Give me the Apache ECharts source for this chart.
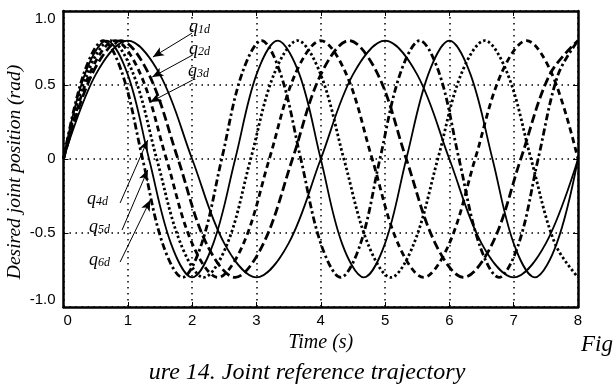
<!DOCTYPE html>
<html><head><meta charset="utf-8">
<script src="https://cdn.jsdelivr.net/npm/echarts@6/dist/echarts.min.js"></script>
<style>html,body{margin:0;padding:0;background:#fff}#c{width:614px;height:385px}</style>
</head><body><div id="c"></div>
<script>
// Time samples (s) and joint positions (rad)
var q1T = [0,0.5,1,1.5,2,2.5,3,3.5,4,4.5,5,5.5,6,6.5,7,7.5,8];
var q1V = [0,0.57,0.8,0.57,0,-0.57,-0.8,-0.57,0,0.57,0.8,0.57,0,-0.57,-0.8,-0.57,0];
var q2T = [0,0.44,0.89,1.33,1.78,2.22,2.67,3.11,3.56,4.0,4.44,4.89,5.33,5.78,6.22,6.67,7.11,7.56,8.0];
var q2V = [0,0.57,0.8,0.57,0,-0.57,-0.8,-0.57,0,0.57,0.8,0.57,0,-0.57,-0.8,-0.57,0,0.57,0.8];
var q3T = [0,0.4,0.8,1.2,1.6,2.0,2.4,2.8,3.2,3.6,4.0,4.4,4.8,5.2,5.6,6.0,6.4,6.8,7.2,7.6,8.0];
var q3V = [0,0.57,0.8,0.57,0,-0.57,-0.8,-0.57,0,0.57,0.8,0.57,0,-0.57,-0.8,-0.57,0,0.57,0.8,0.57,0];
var q4T = [0,0.36,0.73,1.09,1.45,1.82,2.18,2.55,2.91,3.27,3.64,4.0,4.36,4.73,5.09,5.45,5.82,6.18,6.55,6.91,7.27,7.64,8.0];
var q4V = [0,0.57,0.8,0.57,0,-0.57,-0.8,-0.57,0,0.57,0.8,0.57,0,-0.57,-0.8,-0.57,0,0.57,0.8,0.57,0,-0.57,-0.8];
var q5T = [0,0.33,0.67,1,1.33,1.67,2,2.33,2.67,3,3.33,3.67,4,4.33,4.67,5,5.33,5.67,6,6.33,6.67,7,7.33,7.67,8];
var q5V = [0,0.57,0.8,0.57,0,-0.57,-0.8,-0.57,0,0.57,0.8,0.57,0,-0.57,-0.8,-0.57,0,0.57,0.8,0.57,0,-0.57,-0.8,-0.57,0];
var q6T = [0,0.31,0.62,0.92,1.23,1.54,1.85,2.15,2.46,2.77,3.08,3.38,3.69,4.0,4.31,4.62,4.92,5.23,5.54,5.85,6.15,6.46,6.77,7.08,7.38,7.69,8.0];
var q6V = [0,0.57,0.8,0.57,0,-0.57,-0.8,-0.57,0,0.57,0.8,0.57,0,-0.57,-0.8,-0.57,0,0.57,0.8,0.57,0,-0.57,-0.8,-0.57,0,0.57,0.8];
var seriesNames = ['q1d','q2d','q3d','q4d','q5d','q6d'];
var xTicks = [0,1,2,3,4,5,6,7,8];
var yTicks = ['-1.0','-0.5','0','0.5','1.0'];
// Arrow annotations: [label-end (t, q), curve-end (t, q)]
var arrows = [
  [[2.00,0.851],[1.39,0.689]],
  [[2.01,0.703],[1.38,0.554]],
  [[2.01,0.534],[1.35,0.385]],
  [[0.88,-0.297],[1.31,0.128]],
  [[0.91,-0.480],[1.31,-0.074]],
  [[0.88,-0.696],[1.35,-0.277]]
];

function pairs(T,V){return T.map(function(t,i){return [t,V[i]];});}
var allT=[q1T,q2T,q3T,q4T,q5T,q6T], allV=[q1V,q2V,q3V,q4V,q5V,q6V];
var styles=[
  {type:'solid',width:1.8},
  {type:[9,4],width:2.8},
  {type:[6,4],width:2.8},
  {type:[2.5,2.5],width:2.8},
  {type:'solid',width:1.8},
  {type:[7,3,2.5,3],width:2.8}
];
var serif='"Liberation Serif","Times New Roman",serif';
var sans='"Liberation Sans",Arial,sans-serif';
var series = seriesNames.map(function(n,i){
  return {name:n,type:'line',data:pairs(allT[i],allV[i]),smooth:0.35,showSymbol:false,
    lineStyle:{color:'#000',width:styles[i].width,type:styles[i].type},z:3,silent:true};
});
series[0].markLine={silent:true,symbol:['none','arrow'],symbolSize:[7,11],label:{show:false},
  lineStyle:{color:'#000',width:1,type:'solid'},
  data:arrows.map(function(a){return [{coord:a[0]},{coord:a[1]}];})};

var chart=echarts.init(document.getElementById('c'),null,{renderer:'canvas'});
var axisCommon={axisLine:{onZero:false,lineStyle:{color:'#000',width:2.5}},
  axisTick:{inside:true,length:5,lineStyle:{color:'#000',width:1}}};
function lbl(txt,x,y){
  var m=txt.match(/q(\d)d/);
  return {type:'text',left:x,top:y,style:{text:'{a|q}{b|'+m[1]+'d}',rich:{
    a:{fontFamily:serif,fontStyle:'italic',fontSize:18,fill:'#000'},
    b:{fontFamily:serif,fontStyle:'italic',fontSize:12,fill:'#000',padding:[6,0,0,0]}}}};
}
chart.setOption({
  animation:false,
  grid:{left:63.5,right:36,top:11,bottom:78,show:false,containLabel:false,outerBoundsMode:'none'},
  xAxis:[Object.assign({type:'value',min:0,max:8,interval:1,position:'bottom',
    axisLabel:{color:'#000',fontFamily:sans,fontSize:15,margin:6,alignMinLabel:'left',formatter:function(v){return xTicks.indexOf(v)>=0?String(v):'';}},
    splitLine:{show:true,lineStyle:{color:'#000',type:[1.5,4.5],width:1.5}},
    name:'Time (s)',nameLocation:'middle',nameGap:22,
    nameTextStyle:{color:'#000',fontFamily:serif,fontStyle:'italic',fontSize:20}},axisCommon),
    Object.assign({type:'value',min:0,max:8,interval:1,position:'top',axisLabel:{show:false},splitLine:{show:false}},axisCommon)],
  yAxis:[Object.assign({type:'value',min:-1,max:1,interval:0.5,position:'left',
    axisLabel:{color:'#000',fontFamily:sans,fontSize:15,margin:8,verticalAlignMaxLabel:'top',verticalAlignMinLabel:'bottom',formatter:function(v){
      var s=v===0?'0':v.toFixed(1); return yTicks.indexOf(s)>=0?s:'';}},
    splitLine:{show:true,lineStyle:{color:'#000',type:[1.5,4.5],width:1.5}}},axisCommon),
    Object.assign({type:'value',min:-1,max:1,interval:0.5,position:'right',axisLabel:{show:false},splitLine:{show:false}},axisCommon)],
  series:series,
  graphic:[
    {type:'text',x:15,y:172,rotation:Math.PI/2,style:{text:'Desired joint position (rad)',fontFamily:serif,fontStyle:'italic',fontSize:19.5,fill:'#000',align:'center',verticalAlign:'middle'}},
    lbl('q1d',189,18), lbl('q2d',189,40), lbl('q3d',188,62),
    lbl('q4d',87,190), lbl('q5d',89,218), lbl('q6d',89,251),
    {type:'text',left:581,top:333,style:{text:'Fig',fontFamily:serif,fontStyle:'italic',fontSize:23,fill:'#000'}},
    {type:'text',left:'center',top:361,style:{text:'ure 14. Joint reference trajectory',fontFamily:serif,fontStyle:'italic',fontSize:24,fill:'#000'}}
  ]
});
</script></body></html>
